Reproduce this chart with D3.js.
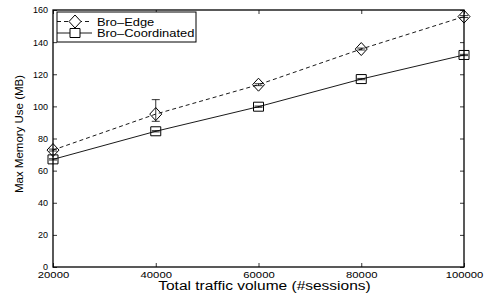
<!DOCTYPE html>
<html>
<head>
<meta charset="utf-8">
<script src="https://cdn.jsdelivr.net/npm/d3@7"></script>
<style>
  body { margin: 0; background: #fff; }
  svg text { font-family: "Liberation Sans", Arial, Helvetica, sans-serif; fill: #000; }
</style>
</head>
<body>
<div id="chart"></div>
<script>
var svgWidth = 485;
var svgHeight = 295;

var margin = { top: 10, right: 21, bottom: 28, left: 53 };
var width = svgWidth - margin.left - margin.right;
var height = svgHeight - margin.top - margin.bottom;

// data
var sessions = [20000, 40000, 60000, 80000, 100000];
var edgeMem = [72.8, 95.2, 113.5, 135.7, 155.9];
var edgeErrLow = [0.6, 4.5, 0.6, 0.6, 0.6];
var edgeErrHigh = [0.6, 9, 0.6, 0.6, 0.6];
var coordMem = [67, 84.5, 99.8, 117, 132];
var coordErr = [0.4, 0.4, 0.4, 0.4, 0.4];
var xTicks = [20000, 40000, 60000, 80000, 100000];
var yTicks = [0, 20, 40, 60, 80, 100, 120, 140, 160];

var svg = d3.select("#chart")
  .append("svg")
  .attr("width", svgWidth)
  .attr("height", svgHeight);

svg.append("rect")
  .attr("width", "100%")
  .attr("height", "100%")
  .attr("fill", "#fff");

var chartGroup = svg.append("g")
  .attr("transform", `translate(${margin.left}, ${margin.top})`);

var x = d3.scaleLinear().domain([20000, 100000]).range([0, width]);
var y = d3.scaleLinear().domain([0, 160]).range([height, 0]);

// the original figure's text is a bit wider than Liberation Sans
function stretch(sel, k) {
  sel.each(function() {
    var w = this.getComputedTextLength();
    d3.select(this).attr("textLength", w * k).attr("lengthAdjust", "spacingAndGlyphs");
  });
}

function styleAxis(g) {
  g.select(".domain").remove();
  g.selectAll("line").attr("stroke", "#000").attr("stroke-width", 0.8);
  g.selectAll("text").style("font-size", "9px");
}

var xAxisG = chartGroup.append("g")
  .attr("transform", `translate(0, ${height})`)
  .call(d3.axisBottom(x).tickValues(xTicks).tickSize(-4).tickPadding(5).tickFormat(d3.format("d")))
  .call(styleAxis);
stretch(xAxisG.selectAll("text"), 1.25);

chartGroup.append("g")
  .call(d3.axisTop(x).tickValues(xTicks).tickSize(-4).tickFormat(""))
  .call(styleAxis);
chartGroup.append("g")
  .call(d3.axisLeft(y).tickValues(yTicks).tickSize(-4).tickPadding(5))
  .call(styleAxis);
chartGroup.append("g")
  .attr("transform", `translate(${width}, 0)`)
  .call(d3.axisRight(y).tickValues(yTicks).tickSize(-4).tickFormat(""))
  .call(styleAxis);

chartGroup.append("rect")
  .attr("width", width)
  .attr("height", height)
  .attr("fill", "none")
  .attr("stroke", "#000")
  .attr("stroke-width", 1.3);

var edgeData = sessions.map((s, i) => ({ x: s, y: edgeMem[i], lo: edgeErrLow[i], hi: edgeErrHigh[i] }));
var coordData = sessions.map((s, i) => ({ x: s, y: coordMem[i], lo: coordErr[i], hi: coordErr[i] }));

var line = d3.line().x(d => x(d.x)).y(d => y(d.y));

function drawSeries(data, dash, shape) {
  var g = chartGroup.append("g");
  g.append("path")
    .datum(data)
    .attr("d", line)
    .attr("fill", "none")
    .attr("stroke", "#000")
    .attr("stroke-width", 0.9)
    .attr("stroke-dasharray", dash);

  // error bars
  g.selectAll(".err")
    .data(data)
    .enter()
    .append("path")
    .attr("d", d => {
      var cx = x(d.x), t = y(d.y + d.hi), b = y(d.y - d.lo);
      return `M${cx - 4},${t}H${cx + 4}M${cx},${t}V${b}M${cx - 4},${b}H${cx + 4}`;
    })
    .attr("fill", "none")
    .attr("stroke", "#000")
    .attr("stroke-width", 0.8);

  g.selectAll(".mk")
    .data(data)
    .enter()
    .append("path")
    .attr("d", shape)
    .attr("transform", d => `translate(${x(d.x)}, ${y(d.y)})`)
    .attr("fill", "none")
    .attr("stroke", "#000")
    .attr("stroke-width", 1);
}

var diamond = "M0,-6.5L6,0L0,6.5L-6,0Z";
var square = "M-5,-4.5H5V4.5H-5Z";

drawSeries(edgeData, "4,3", diamond);
drawSeries(coordData, null, square);

// legend
var legend = chartGroup.append("g").attr("transform", "translate(4, 2)");
legend.append("rect")
  .attr("width", 139)
  .attr("height", 30)
  .attr("fill", "#fff")
  .attr("stroke", "#000")
  .attr("stroke-width", 1);

var legendItems = [
  { name: "Bro\u2013Edge", dash: "4,3", shape: diamond },
  { name: "Bro\u2013Coordinated", dash: null, shape: square }
];
legendItems.forEach(function(item, i) {
  var ly = 9.5 + i * 11.5;
  legend.append("line")
    .attr("x1", 0).attr("x2", 35).attr("y1", ly).attr("y2", ly)
    .attr("stroke", "#000").attr("stroke-width", 0.9)
    .attr("stroke-dasharray", item.dash);
  legend.append("path")
    .attr("d", item.shape)
    .attr("transform", `translate(18, ${ly})`)
    .attr("fill", "#fff")
    .attr("stroke", "#000")
    .attr("stroke-width", 1);
  var t = legend.append("text")
    .attr("x", 40)
    .attr("y", ly + 4)
    .style("font-size", "11px")
    .text(item.name);
  stretch(t, 1.17);
});

// axis labels
chartGroup.append("text")
  .attr("transform", "rotate(-90)")
  .attr("y", -margin.left + 23)
  .attr("x", -(134 - margin.top))
  .style("text-anchor", "middle")
  .style("font-size", "11.5px")
  .text("Max Memory Use (MB)");

var xLabel = chartGroup.append("text")
  .attr("x", width / 2 + 6)
  .attr("y", height + 23)
  .style("text-anchor", "middle")
  .style("font-size", "12.5px")
  .text("Total traffic volume (#sessions)");
stretch(xLabel, 1.24);
</script>
</body>
</html>
